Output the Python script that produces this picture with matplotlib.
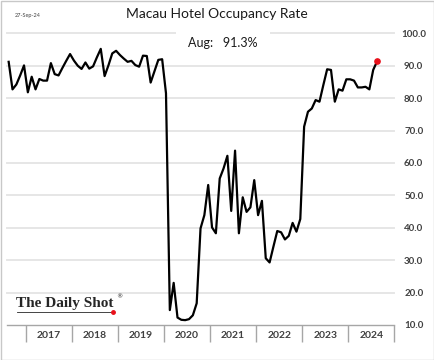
import numpy as np
import matplotlib.pyplot as plt
from matplotlib.patches import Rectangle

# monthly hotel occupancy (%), Aug 2016 .. Aug 2024
occupancy = [
    91.2, 82.7, 84.2, 87.0, 90.1,                                          # 2016 Aug-Dec
    81.8, 86.6, 82.7, 85.9, 85.4, 85.4, 90.8, 87.4, 87.0, 89.3, 91.5, 93.6,  # 2017
    91.6, 90.0, 89.0, 91.0, 89.1, 89.8, 92.6, 95.2, 86.8, 90.1, 93.8, 94.6,  # 2018
    93.3, 92.2, 91.2, 91.5, 90.2, 89.7, 93.1, 93.0, 84.8, 88.3, 91.8, 92.0,  # 2019
    81.5, 14.6, 23.0, 12.3, 11.6, 11.5, 11.8, 13.0, 16.7, 39.8, 43.9, 53.2,  # 2020
    40.1, 38.3, 55.2, 58.3, 62.2, 45.2, 63.8, 38.3, 49.4, 44.9, 46.3, 54.7,  # 2021
    43.9, 48.3, 30.6, 29.3, 34.2, 39.0, 38.6, 36.4, 37.5, 41.5, 38.8, 42.7,  # 2022
    71.2, 75.8, 76.8, 79.4, 78.9, 84.0, 88.9, 88.7, 78.9, 82.7, 82.3, 85.8,  # 2023
    85.8, 85.4, 83.3, 83.3, 83.5, 82.7, 88.7, 91.3,                          # 2024
]
years = ['2017', '2018', '2019', '2020', '2021', '2022', '2023', '2024']
yticks = [10, 20, 30, 40, 50, 60, 70, 80, 90, 100]
first_offset = -5  # Aug 2016 is 5 months before Jan 2017

x = np.arange(len(occupancy)) + first_offset + 0.5

fig = plt.figure(figsize=(4.34, 3.6), dpi=100)
ax = fig.add_axes([6.75 / 434, 1 - 325 / 360, (394.3 - 6.75) / 434, (325 - 33.3) / 360])

for y in yticks[1:]:
    ax.axhline(y, color='#e6e6e6', lw=1.4, zorder=0, clip_on=False)

ax.plot(x, occupancy, color='black', lw=1.6, zorder=3)
ax.plot(x[-1], occupancy[-1], 'o', color='#e8101a', ms=3.8, zorder=4)

ax.set_xlim(first_offset, 12 * len(years))
ax.set_ylim(10, 100)

for s in ['top', 'left', 'right']:
    ax.spines[s].set_visible(False)
ax.spines['bottom'].set_color('#a6a6a6')
ax.spines['bottom'].set_linewidth(1.0)

ax.set_xticks(np.arange(0, 12 * len(years) + 1, 12))
ax.set_xticklabels([])
ax.tick_params(axis='x', which='major', length=12, width=1.0, color='#a6a6a6', direction='out')
ax.set_xticks(np.arange(6, 12 * len(years), 12), minor=True)
ax.set_xticklabels(years, minor=True, fontsize=7.5, fontweight='bold',
                   color='#404040', family='Lato')
ax.tick_params(axis='x', which='minor', length=0, pad=4)

ax.yaxis.tick_right()
ax.set_yticks(yticks)
ax.set_yticklabels([f'{v:.1f}' for v in yticks], fontsize=7, fontweight='bold',
                   color='#404040', family='Lato')
ax.tick_params(axis='y', length=0, pad=14)
for lab in ax.get_yticklabels():
    lab.set_horizontalalignment('center')

fig.text(217 / 434, 1 - 14 / 360, 'Macau Hotel Occupancy Rate', ha='center', va='center',
         fontsize=10, family='Lato', color='#1a1a1a')
fig.text(15 / 434, 1 - 15 / 360, '27-Sep-24', ha='left', va='center', fontsize=4,
         family='Lato', color='#404040')
fig.text(223 / 434, 1 - 43 / 360, 'Aug:   91.3%', ha='center', va='center', fontsize=9,
         family='Lato', color='#1a1a1a',
         bbox=dict(facecolor='white', edgecolor='none', pad=9))

# logo
fig.text(16 / 434, 1 - 303 / 360, 'The Daily Shot', ha='left', va='center', fontsize=11,
         family='Liberation Serif', fontweight='bold', color='#262626')
fig.text(116 / 434, 1 - 297 / 360, '®', ha='left', va='center', fontsize=4.5,
         family='DejaVu Sans', color='#262626')
fig.add_artist(plt.Line2D([17 / 434, 111 / 434], [1 - 312 / 360, 1 - 312 / 360],
                          transform=fig.transFigure, color='#262626', lw=0.6))
fig.add_artist(plt.Line2D([112.5 / 434], [1 - 311.7 / 360], transform=fig.transFigure,
                          marker='o', ms=2.5, color='#e8101a', lw=0))

fig.add_artist(Rectangle((0.5 / 434, 0.5 / 360), 433 / 434, 359 / 360, transform=fig.transFigure,
                         fill=False, edgecolor='#c8c8c8', lw=1.0))

fig.savefig('out.png', dpi=100)
